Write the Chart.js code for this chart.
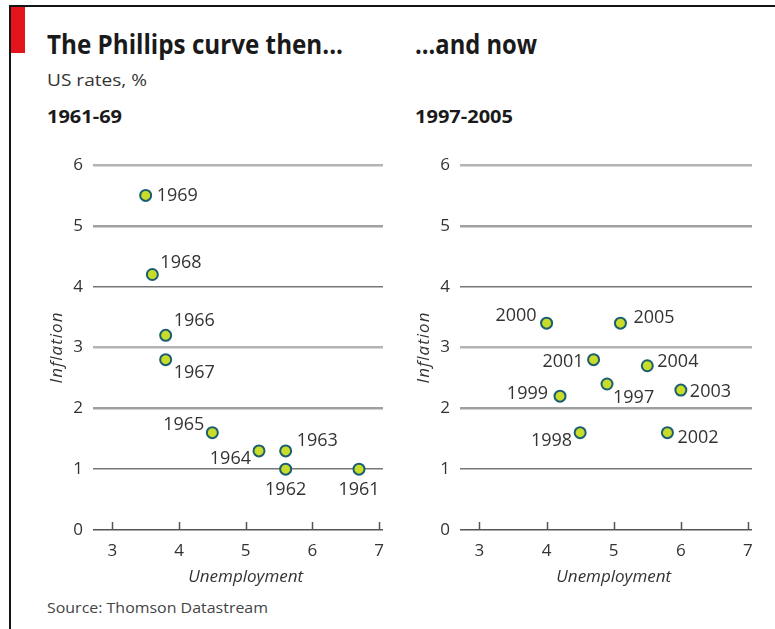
<!DOCTYPE html>
<html><head><meta charset="utf-8">
<script src="https://cdn.jsdelivr.net/npm/chart.js@4.4.1/dist/chart.umd.min.js"></script>
<style>
html,body{margin:0;padding:0;background:#fff;}
body{width:775px;height:629px;position:relative;overflow:hidden;font-family:"Open Sans",sans-serif;color:#222;}
.frame-top{position:absolute;left:9px;top:5px;width:766px;height:2px;background:#151515;}
.frame-left{position:absolute;left:9px;top:5px;width:2px;height:624px;background:#151515;}
.red{position:absolute;left:11px;top:7px;width:14px;height:46px;background:#e3141b;}
.t{position:absolute;white-space:nowrap;line-height:1;transform-origin:0 0;}
.title{font-size:26px;font-weight:700;color:#1a1a1a;}
.sub{font-size:16px;color:#333;}
.per{font-size:17px;font-weight:700;color:#1a1a1a;}
.src{font-size:14px;color:#444;}
canvas{position:absolute;}
</style></head>
<body>
<div class="frame-top"></div><div class="frame-left"></div><div class="red"></div>
<div class="t title" id="tL" style="left:47px;top:31px" data-w="296">The Phillips curve then...</div>
<div class="t title" id="tR" style="left:415px;top:31px" data-w="122">...and now</div>
<div class="t sub" style="left:47px;top:72px" data-w="100">US rates, %</div>
<div class="t per" style="left:47px;top:108px" data-w="75">1961-69</div>
<div class="t per" style="left:415px;top:108px" data-w="98">1997-2005</div>
<div class="t src" style="left:47px;top:601px" data-w="221">Source: Thomson Datastream</div>
<canvas id="cThen" width="345" height="440" style="left:40px;top:150px"></canvas>
<canvas id="cNow" width="347" height="440" style="left:407px;top:150px"></canvas>
<script>
// ---- data ----
const thenYears = ['1961','1962','1963','1964','1965','1966','1967','1968','1969'];
const thenUnemployment = [6.7, 5.6, 5.6, 5.2, 4.5, 3.8, 3.8, 3.6, 3.5];
const thenInflation    = [1.0, 1.0, 1.3, 1.3, 1.6, 3.2, 2.8, 4.2, 5.5];
const nowYears = ['1997','1998','1999','2000','2001','2002','2003','2004','2005'];
const nowUnemployment = [4.9, 4.5, 4.2, 4.0, 4.7, 5.8, 6.0, 5.5, 5.1];
const nowInflation    = [2.4, 1.6, 2.2, 3.4, 2.8, 1.6, 2.3, 2.7, 3.4];
const xTickValues = [3, 4, 5, 6, 7];
const yTickValues = [0, 1, 2, 3, 4, 5, 6];
const xTitle = 'Unemployment';
const yTitle = 'Inflation';

// ---- label placement (style, not data): [dx, dy, align] ----
const thenLabelPlacement = [
  [0, 21, 'center'], [0, 21, 'center'], [11, -10, 'left'], [-8, 8, 'right'], [-8, -8, 'right'],
  [8, -14, 'left'], [8, 13, 'left'], [8, -12, 'left'], [11, 0, 'left']
];
const nowLabelPlacement = [
  [6, 14, 'left'], [-8, 8, 'right'], [-12, -2, 'right'], [-10, -7, 'right'], [-10, 2, 'right'],
  [10, 5, 'left'], [9, 2, 'left'], [10, -4, 'left'], [13, -5, 'left']
];

// fit header texts to measured widths
document.querySelectorAll('.t[data-w]').forEach(el => {
  const w = el.getBoundingClientRect().width;
  el.style.transform = 'scaleX(' + (parseFloat(el.dataset.w) / w) + ')';
});

function gridColor(ctx) {
  const v = ctx.tick ? ctx.tick.value : null;
  if (v === 0) return '#555';
  if (v === 1 || v === 4) return '#777';
  if (v === 2 || v === 5) return '#a0a0a0';
  return '#b4b4b4';
}
function gridWidth(ctx) {
  const v = ctx.tick ? ctx.tick.value : null;
  if (v === 0 || v === 1 || v === 4) return 1.5;
  return 2.5;
}

function makeChart(id, years, xs, ys, placement) {
  const labelPlugin = {
    id: 'yearLabels',
    afterDatasetsDraw(chart) {
      const ctx = chart.ctx;
      const meta = chart.getDatasetMeta(0);
      ctx.save();
      ctx.font = '18px "Open Sans"';
      ctx.fillStyle = '#333';
      ctx.textBaseline = 'middle';
      meta.data.forEach((pt, i) => {
        const p = placement[i];
        ctx.textAlign = p[2];
        ctx.fillText(years[i], pt.x + p[0], pt.y + p[1]);
      });
      ctx.restore();
    }
  };
  const axisDecor = {
    id: 'axisDecor',
    beforeDatasetsDraw(chart) {
      const ctx = chart.ctx;
      const sx = chart.scales.x;
      const area = chart.chartArea;
      ctx.save();
      ctx.strokeStyle = '#555';
      ctx.lineWidth = 1.5;
      ctx.beginPath();
      sx.ticks.forEach(t => {
        const px = Math.round(sx.getPixelForValue(t.value)) + 0.5;
        ctx.moveTo(px, area.bottom);
        ctx.lineTo(px, area.bottom - 8);
      });
      ctx.stroke();
      // axis titles
      ctx.fillStyle = '#333';
      ctx.font = 'italic 17px "Open Sans"';
      ctx.textAlign = 'center';
      ctx.textBaseline = 'middle';
      const midVal = xTickValues[Math.floor(xTickValues.length / 2)];
      ctx.fillText(xTitle, sx.getPixelForValue(midVal), area.bottom + 47);
      ctx.translate(area.left - 36, (area.top + area.bottom) / 2);
      ctx.rotate(-Math.PI / 2);
      ctx.letterSpacing = '1px';
      ctx.fillText(yTitle, 0, 0);
      ctx.restore();
    }
  };
  return new Chart(document.getElementById(id), {
    type: 'scatter',
    data: {
      datasets: [{
        data: xs.map((x, i) => ({ x: x, y: ys[i] })),
        backgroundColor: '#c9dc2a',
        borderColor: '#1b5e72',
        borderWidth: 2,
        pointRadius: 5.5,
        pointHoverRadius: 5.5,
        clip: false
      }]
    },
    options: {
      responsive: false,
      animation: false,
      events: [],
      layout: { autoPadding: false, padding: { top: 15, right: 2, left: 0, bottom: 0 } },
      plugins: { legend: { display: false }, tooltip: { enabled: false } },
      scales: {
        x: {
          type: 'linear',
          min: 2.71, max: 7.06,
          afterBuildTicks: s => { s.ticks = xTickValues.map(v => ({ value: v })); },
          afterFit: s => { s.height = 60; s.paddingLeft = 0; s.paddingRight = 0; },
          grid: { display: false, drawTicks: false },
          border: { display: false },
          ticks: { font: { family: 'Open Sans', size: 17 }, color: '#333', padding: 11 }
        },
        y: {
          type: 'linear',
          min: 0, max: 6,
          afterBuildTicks: s => { s.ticks = yTickValues.map(v => ({ value: v })); },
          afterFit: s => { s.width = 53; s.paddingTop = 0; s.paddingBottom = 0; },
          grid: { drawTicks: false, color: gridColor, lineWidth: gridWidth },
          border: { display: false },
          ticks: { font: { family: 'Open Sans', size: 17 }, color: '#333', padding: 10 }
        }
      }
    },
    plugins: [axisDecor, labelPlugin]
  });
}

makeChart('cThen', thenYears, thenUnemployment, thenInflation, thenLabelPlacement);
makeChart('cNow', nowYears, nowUnemployment, nowInflation, nowLabelPlacement);
</script>
</body></html>
